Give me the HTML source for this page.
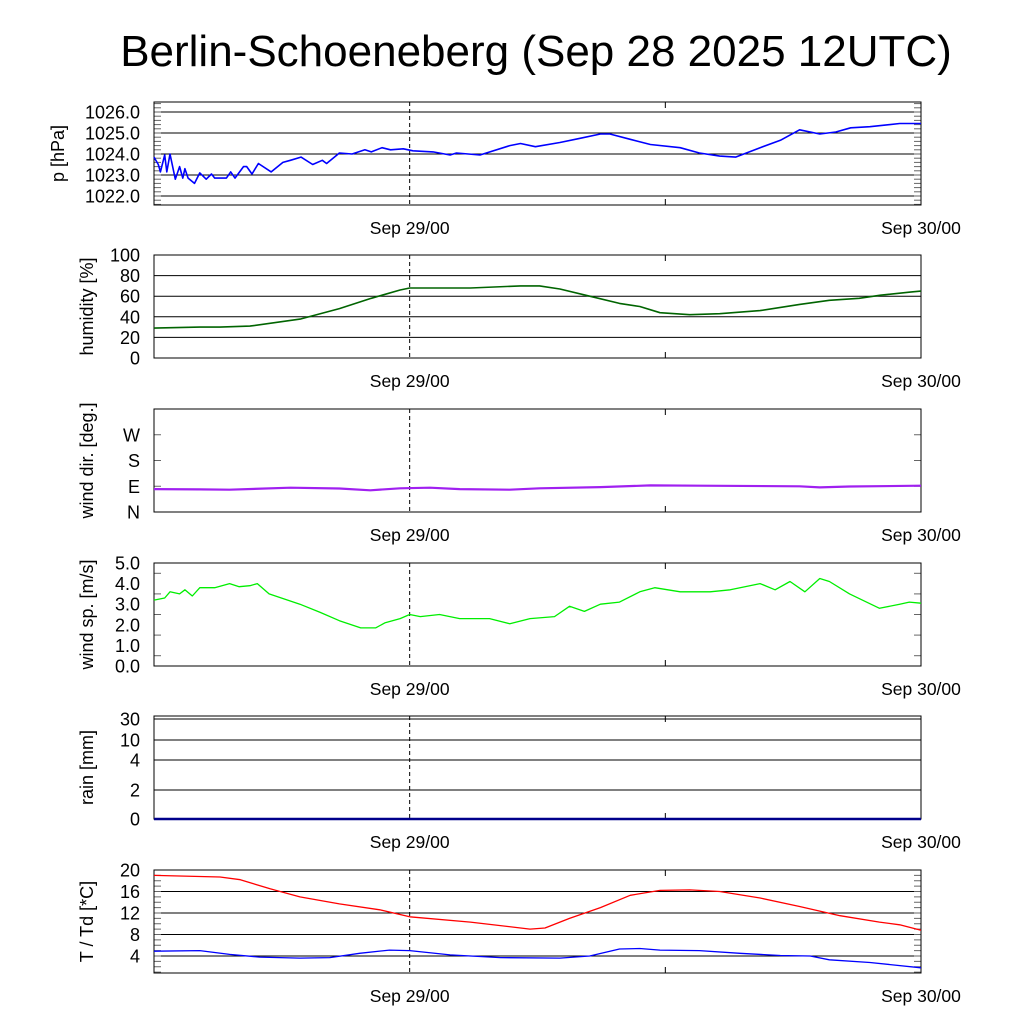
<!DOCTYPE html>
<html><head><meta charset="utf-8"><style>
body{margin:0;background:#fff}
svg{display:block;font-family:"Liberation Sans",sans-serif}
</style></head><body>
<svg id="c" width="1024" height="1024" xmlns="http://www.w3.org/2000/svg">
<text x="536" y="66" font-size="44" text-anchor="middle">Berlin-Schoeneberg (Sep 28 2025 12UTC)</text>
</svg>
<script>
const xTickLabels=["Sep 29/00","Sep 30/00"];
const xTickHours=[12,36];
const pHours=[0,0.2,0.3,0.5,0.6,0.75,1.0,1.2,1.35,1.45,1.6,1.9,2.15,2.45,2.7,2.85,3.4,3.6,3.8,4.2,4.35,4.6,4.9,5.5,6.05,6.4,6.9,7.45,7.9,8.1,8.7,9.3,9.9,10.2,10.7,11.1,11.7,12.15,13.1,13.9,14.2,15.3,16.7,17.2,17.9,19.05,20.0,20.95,21.4,22.35,23.3,24.7,25.6,26.55,27.3,28.45,29.4,30.3,31.25,32.0,32.7,33.6,35.0,36];
const pVals=[1023.85,1023.5,1023.15,1023.95,1023.15,1024.0,1022.8,1023.4,1022.85,1023.3,1022.85,1022.6,1023.1,1022.8,1023.05,1022.85,1022.85,1023.15,1022.85,1023.4,1023.4,1023.05,1023.55,1023.15,1023.6,1023.7,1023.85,1023.5,1023.7,1023.55,1024.05,1024.0,1024.2,1024.1,1024.3,1024.2,1024.25,1024.15,1024.1,1023.95,1024.05,1023.95,1024.4,1024.5,1024.35,1024.55,1024.75,1024.95,1024.95,1024.7,1024.45,1024.3,1024.05,1023.9,1023.85,1024.3,1024.65,1025.15,1024.95,1025.05,1025.25,1025.3,1025.45,1025.45];
const hHours=[0,2.15,3.1,4.5,6.9,8.7,10.2,11.55,12,14.85,17.2,18.1,19.05,20.45,21.85,22.8,23.75,25.15,26.55,28.45,30.3,31.7,33.1,34.1,35.5,36];
const hVals=[29,30,30,31,38,48,58,66,68,68,70,70,67,60,53,50,44,42,43,46,52,56,58,61,64,65];
const dHours=[0,2.15,3.55,6.4,8.7,10.15,11.55,12.95,14.35,16.7,18.1,20.95,23.3,25.6,30.3,31.25,32.65,36];
const dVals=[80,79,78,85,82,76,83,85,80,78,83,87,93,92,90,86,89,92];
const sHours=[0,0.5,0.75,1.2,1.45,1.8,2.15,2.85,3.55,4.0,4.5,4.85,5.4,6.85,7.8,8.7,9.7,10.4,10.85,11.55,12.0,12.5,13.4,14.35,15.75,16.7,17.65,18.8,19.5,20.2,20.95,21.85,22.8,23.5,24.7,26.1,27.05,28.45,29.15,29.85,30.55,31.25,31.7,32.65,34.05,35.0,35.45,36];
const sVals=[3.2,3.3,3.6,3.5,3.7,3.4,3.8,3.8,4.0,3.85,3.9,4.0,3.5,3.0,2.6,2.2,1.85,1.85,2.1,2.3,2.5,2.4,2.5,2.3,2.3,2.05,2.3,2.4,2.9,2.65,3.0,3.1,3.6,3.8,3.6,3.6,3.7,4.0,3.7,4.1,3.6,4.25,4.1,3.5,2.8,3.0,3.1,3.05];
const rHours=[0,36];
const rVals=[0,0];
const tHours=[0,3.1,4.05,5.45,6.85,8.7,10.6,12.0,14.85,17.65,18.35,19.5,20.95,22.35,23.75,25.15,26.55,28.45,30.3,32.2,34.05,35.0,36];
const tVals=[19.0,18.7,18.2,16.5,15.0,13.7,12.6,11.3,10.3,9.0,9.2,11,13,15.3,16.2,16.3,16.0,14.8,13.2,11.5,10.3,9.8,8.8];
const tdHours=[0,2.15,3.55,4.95,6.85,8.25,9.65,11.05,12.0,13.9,16.25,19.05,20.45,21.85,22.8,23.75,25.6,27.5,29.4,30.8,31.7,33.6,36];
const tdVals=[4.9,5.0,4.3,3.8,3.6,3.7,4.5,5.1,5.0,4.2,3.7,3.6,4.0,5.3,5.4,5.1,5.0,4.5,4.1,4.0,3.3,2.8,1.8];

const NS="http://www.w3.org/2000/svg",svg=document.getElementById('c');
const X0=154,X1=921;
const xs=h=>X0+h*(X1-X0)/36;
function el(t,a,p){const e=document.createElementNS(NS,t);for(const k in a)e.setAttribute(k,a[k]);(p||svg).appendChild(e);return e;}
function lin(v0,v1,y0,y1){return v=>y0+(v-v0)*(y1-y0)/(v1-v0);}
function panel(name,top,bot,ys,grid,labels,ylabel,minor,tx){
  const g=el('g',{});
  
  
  grid.forEach((v,i)=>{const y=ys(v);
    const l=el('line',{x1:X0,x2:X1,y1:y,y2:y,stroke:'#000','stroke-width':1},g);
    
    if(labels[i]!==''){const t=el('text',{x:140,y:y+6.5,'font-size':18,'text-anchor':'end'},g);t.textContent=labels[i];
    }
  });
  minor.forEach(v=>{const y=ys(v);el('line',{x1:X0,x2:X0+7,y1:y,y2:y,stroke:'#666'},g);el('line',{x1:X1-7,x2:X1,y1:y,y2:y,stroke:'#666'},g);});
  el('line',{x1:xs(12),x2:xs(12),y1:top,y2:bot,stroke:'#000','stroke-dasharray':'4,3'},g);
  el('line',{x1:xs(24),x2:xs(24),y1:bot-6,y2:bot,stroke:'#000'},g);
  el('line',{x1:xs(24),x2:xs(24),y1:top,y2:top+6,stroke:'#000'},g);
  const fr=el('rect',{x:X0,y:top,width:X1-X0,height:bot-top,fill:'none',stroke:'#000'},g);
  
  xTickHours.forEach((h,i)=>{const t=el('text',{x:xs(h),y:bot+29,'font-size':17.5,'text-anchor':'middle'},g);t.textContent=xTickLabels[i];
    });
  const cy=(top+bot)/2;
  const yl=el('text',{x:0,y:0,'font-size':18,'text-anchor':'middle',transform:`translate(${tx||93},${cy}) rotate(-90)`},g);
  yl.textContent=ylabel;
  return g;
}
function series(g,name,hs,vs,ys,color,w){
  const d=hs.map((h,i)=>(i?'L':'M')+xs(h).toFixed(1)+','+ys(vs[i]).toFixed(1)).join('');
  const p=el('path',{d:d,fill:'none',stroke:color,'stroke-width':w,'stroke-linejoin':'round'},g);
  
}
const rng=(a,b,s)=>{const r=[];for(let v=a;v<=b+1e-9;v+=s)r.push(+v.toFixed(3));return r;};
// pressure
let ys=lin(1022,1026,196,112);
let g=panel('pressure',102,205,ys,[1022,1023,1024,1025,1026],['1022.0','1023.0','1024.0','1025.0','1026.0'],'p [hPa]',rng(1021.6,1026.4,0.2),64);
series(g,'pressure',pHours,pVals,ys,'#0000ff',1.6);
// humidity
ys=lin(0,100,358,255);
g=panel('humidity',255,358,ys,[0,20,40,60,80,100],['0','20','40','60','80','100'],'humidity [%]',[]);
series(g,'humidity',hHours,hVals,ys,'#006400',1.6);
// wind dir
ys=lin(0,360,512,409);
g=panel('wind-direction',409,512,ys,[],[],'wind dir. [deg.]',[90,180,270]);
['N','E','S','W'].forEach((s,i)=>{const t=el('text',{x:140,y:ys(i*90)+6.5,'font-size':18,'text-anchor':'end'},g);t.textContent=s;
 });
series(g,'wind-direction',dHours,dVals,ys,'#a020f0',2.2);
// wind speed
ys=lin(0,5,666,563);
g=panel('wind-speed',563,666,ys,[],[],'wind sp. [m/s]',rng(0.5,4.5,1));
[0,1,2,3,4,5].forEach(v=>{const t=el('text',{x:140,y:ys(v)+6.5,'font-size':18,'text-anchor':'end'},g);t.textContent=v.toFixed(1);
 });
series(g,'wind-speed',sHours,sVals,ys,'#00ee00',1.3);
// rain
const rv=[0,2,4,10,30],ry=[819,790,760,740,719];
ys=v=>{for(let i=1;i<rv.length;i++)if(v<=rv[i])return ry[i-1]+(v-rv[i-1])*(ry[i]-ry[i-1])/(rv[i]-rv[i-1]);return 719;};
g=panel('rain',716,819,ys,[2,4,10,30],['2','4','10','30'],'rain [mm]',[]);
{const t=el('text',{x:140,y:825.5,'font-size':18,'text-anchor':'end'},g);t.textContent='0';}
series(g,'rain',rHours,rVals,ys,'#00008b',2.5);
// temperature
ys=lin(4,20,956,870);
g=panel('temperature',870,973,ys,[4,8,12,16,20],['4','8','12','16','20'],'T / Td [*C]',rng(1,19,1));
series(g,'temperature',tHours,tVals,ys,'#ff0000',1.3);
series(g,'dewpoint',tdHours,tdVals,ys,'#0000ff',1.3);
</script>
</body></html>
